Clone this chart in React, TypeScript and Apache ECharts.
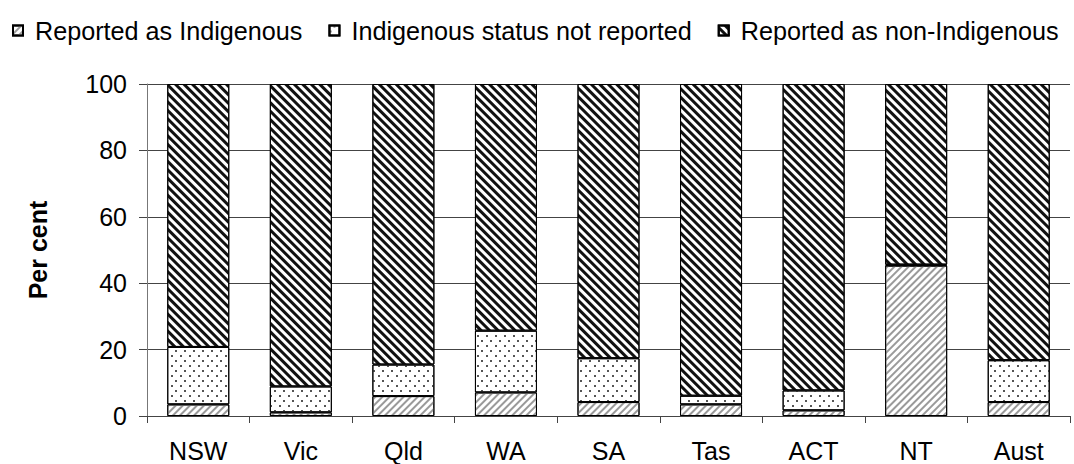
import React, { useEffect, useRef } from "react";
import * as echarts from "echarts";

const categories = ["NSW", "Vic", "Qld", "WA", "SA", "Tas", "ACT", "NT", "Aust"];
const indigenous = [3.5, 1.1, 6.0, 7.1, 4.2, 3.5, 1.7, 45.3, 4.2];
const notReported = [17.3, 7.8, 9.5, 18.6, 13.2, 2.6, 6.0, 0.3, 12.6];
const nonIndigenous = [79.2, 91.1, 84.5, 74.3, 82.6, 93.9, 92.3, 54.4, 83.2];
const seriesNames = [
  "Reported as Indigenous",
  "Indigenous status not reported",
  "Reported as non-Indigenous",
];
const yTicks = [0, 20, 40, 60, 80, 100];

const FONT = "Liberation Sans, Arial, Helvetica, sans-serif";

export default function App() {
  const ref = useRef<HTMLDivElement>(null);
  useEffect(() => {
    if (!ref.current) return;
    const chart = echarts.init(ref.current, undefined, { renderer: "svg" });
    const border = { borderColor: "#000", borderWidth: 1 };
    chart.setOption({
      animation: false,
      backgroundColor: "#fff",
      textStyle: { fontFamily: FONT },
      legend: {
        top: 18,
        left: 12,
        padding: 0,
        itemWidth: 10,
        itemHeight: 10,
        itemGap: 26,
        icon: "rect",
        textStyle: { fontSize: 25.2, color: "#000", fontFamily: FONT, padding: [0, 0, 0, 7] },
        data: seriesNames,
      },
      grid: { left: 147, right: 4, top: 84, bottom: 48, containLabel: false },
      xAxis: {
        type: "category",
        data: categories,
        axisLine: { lineStyle: { color: "#444", width: 1 } },
        axisTick: { show: true, length: 7, lineStyle: { color: "#444" } },
        axisLabel: { fontSize: 25, color: "#000", margin: 22, fontFamily: FONT },
      },
      yAxis: {
        type: "value",
        min: 0,
        max: 100,
        interval: 20,
        name: "Per cent",
        nameLocation: "middle",
        nameGap: 97,
        nameRotate: 90,
        nameTextStyle: { fontSize: 25, fontWeight: "bold", color: "#000", fontFamily: FONT },
        axisLine: { show: true, lineStyle: { color: "#777", width: 1 } },
        axisTick: { show: true, length: 8, lineStyle: { color: "#444" } },
        axisLabel: {
          fontSize: 25,
          color: "#000",
          margin: 20,
          fontFamily: FONT,
          formatter: (v: number) => (yTicks.includes(v) ? String(v) : ""),
        },
        splitLine: { show: true, lineStyle: { color: "#444", width: 1 } },
      },
      series: [
        {
          name: seriesNames[0],
          type: "bar",
          stack: "total",
          barWidth: 62,
          data: indigenous,
          itemStyle: {
            color: "#fff",
            ...border,
            decal: {
              symbol: "rect",
              symbolSize: 1,
              color: "#9a9a9a",
              dashArrayX: [1, 0],
              dashArrayY: [2, 2.5],
              rotation: -Math.PI / 4,
            },
          },
        },
        {
          name: seriesNames[1],
          type: "bar",
          stack: "total",
          barWidth: 62,
          data: notReported,
          itemStyle: {
            color: "#fff",
            ...border,
            decal: {
              symbol: "rect",
              symbolSize: 1,
              color: "#555",
              dashArrayX: [
                [1.5, 6.5],
                [0, 4, 1.5, 2.5],
              ],
              dashArrayY: [1.5, 2.5],
              rotation: 0,
            },
          },
        },
        {
          name: seriesNames[2],
          type: "bar",
          stack: "total",
          barWidth: 62,
          data: nonIndigenous,
          itemStyle: {
            color: "#fff",
            ...border,
            decal: {
              symbol: "rect",
              symbolSize: 1,
              color: "#111",
              dashArrayX: [1, 0],
              dashArrayY: [3, 2.5],
              rotation: Math.PI / 4,
            },
          },
        },
      ],
    });
    return () => chart.dispose();
  }, []);
  return (
    <div
      ref={ref}
      style={{ position: "fixed", left: 0, top: 0, width: 1074, height: 464 }}
    />
  );
}
